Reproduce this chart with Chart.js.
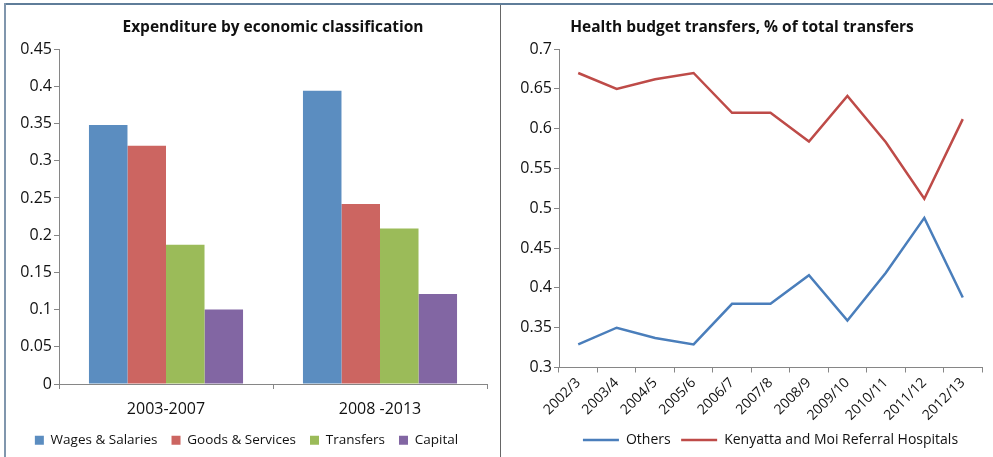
<!DOCTYPE html>
<html lang="en">
<head>
    <meta charset="UTF-8">
    <title>Health expenditure charts</title>
    <script src="https://cdn.jsdelivr.net/npm/chart.js"></script>
    <style>
        body {
            margin: 0;
            width: 993px;
            height: 457px;
            background: #fff;
            position: relative;
            overflow: hidden;
        }
        .frame-top {
            position: absolute;
            left: 4px; top: 3px;
            width: 989px; height: 2px;
            background: #5f7d99;
        }
        .frame-left {
            position: absolute;
            left: 4px; top: 3px;
            width: 2px; height: 454px;
            background: #8096ad;
        }
        .divider {
            position: absolute;
            left: 500px; top: 5px;
            width: 1px; height: 452px;
            background: #666;
        }
        .panel {
            position: absolute;
            top: 0;
            height: 457px;
        }
        #left { left: 6px; width: 492px; }
        #right { left: 502px; width: 491px; }
    </style>
</head>
<body>
<div class="frame-top"></div>
<div class="frame-left"></div>
<div class="divider"></div>
<div class="panel" id="left"><canvas id="spendChart"></canvas></div>
<div class="panel" id="right"><canvas id="transferChart"></canvas></div>
<script>
  // expenditure shares by period
  const periods = ['2003-2007', '2008 -2013'];
  const wages = [0.348, 0.394];
  const goods = [0.320, 0.242];
  const transfers = [0.187, 0.209];
  const capital = [0.100, 0.121];

  // share of health budget transfers by fiscal year
  const years = ['2002/3', '2003/4', '2004/5', '2005/6', '2006/7', '2007/8',
                 '2008/9', '2009/10', '2010/11', '2011/12', '2012/13'];
  const others = [0.329, 0.350, 0.337, 0.329, 0.380, 0.380, 0.416, 0.359, 0.419, 0.488, 0.388];
  const referral = [0.670, 0.650, 0.662, 0.670, 0.620, 0.620, 0.584, 0.641, 0.583, 0.512, 0.612];

  const FONT = "'Open Sans', 'DejaVu Sans', sans-serif";
  Chart.defaults.font.family = FONT;
  Chart.defaults.color = '#111';
  Chart.defaults.animation = false;
  Chart.defaults.maintainAspectRatio = false;

  const axisLine = { display: true, color: '#868686', width: 1 };
  const tickGrid = { drawOnChartArea: false, drawTicks: true, tickLength: 5, color: '#868686' };
  // excel-style "general" number format: 0.40 -> 0.4, 0.00 -> 0
  const general = v => String(parseFloat(Number(v).toFixed(2)));

  new Chart(document.getElementById('spendChart'), {
    type: 'bar',
    data: {
      labels: periods,
      datasets: [
        { label: 'Wages & Salaries', data: wages, backgroundColor: '#5b8dc0' },
        { label: 'Goods & Services', data: goods, backgroundColor: '#cc6561' },
        { label: 'Transfers', data: transfers, backgroundColor: '#9bbb59' },
        { label: 'Capital', data: capital, backgroundColor: '#8266a3' }
      ]
    },
    options: {
      responsive: true,
      layout: { padding: { left: 0, right: 11, top: 0, bottom: 0 } },
      datasets: { bar: { barPercentage: 1.0, categoryPercentage: 0.72 } },
      plugins: {
        title: {
          display: true,
          fullSize: false,
          text: 'Expenditure by economic classification',
          font: { size: 15.5, weight: 'bold' },
          padding: { top: 18, bottom: 12.5 }
        },
        legend: {
          position: 'bottom',
          labels: { boxWidth: 9, boxHeight: 9, font: { size: 13.5 }, padding: 14 }
        },
        tooltip: { enabled: false }
      },
      scales: {
        x: {
          grid: Object.assign({ offset: true }, tickGrid),
          border: axisLine,
          ticks: { font: { size: 16 }, padding: 11 },
          // tick mark + gap + one line of text
          afterFit: function(scale) { scale.height = 35.5; }
        },
        y: {
          min: 0, max: 0.45,
          grid: tickGrid,
          border: axisLine,
          ticks: { stepSize: 0.05, font: { size: 16 }, padding: 2, callback: general },
          afterFit: function(scale) { scale.width = 53; }
        }
      }
    }
  });

  new Chart(document.getElementById('transferChart'), {
    type: 'line',
    data: {
      labels: years,
      datasets: [
        { label: 'Others', data: others, borderColor: '#4a7ebb', backgroundColor: '#4a7ebb',
          borderWidth: 2.5, pointRadius: 0, tension: 0 },
        { label: 'Kenyatta and Moi Referral Hospitals', data: referral, borderColor: '#be4b48',
          backgroundColor: '#be4b48', borderWidth: 2.5, pointRadius: 0, tension: 0 }
      ]
    },
    options: {
      responsive: true,
      layout: { padding: { left: 0, right: 11, top: 0, bottom: 0 } },
      plugins: {
        title: {
          display: true,
          text: 'Health budget transfers, % of total transfers',
          font: { size: 15.5, weight: 'bold' },
          padding: { top: 18, bottom: 12.5 }
        },
        legend: {
          position: 'bottom',
          fullSize: false,
          labels: { boxWidth: 36, boxHeight: 0, font: { size: 14 }, padding: 10.5 }
        },
        tooltip: { enabled: false }
      },
      scales: {
        x: {
          offset: true,
          grid: Object.assign({ offset: true }, tickGrid),
          border: axisLine,
          ticks: { font: { size: 14 }, minRotation: 45, maxRotation: 45, padding: 2 },
          afterFit: function(scale) { scale.height = 55; }
        },
        y: {
          min: 0.3, max: 0.7,
          grid: tickGrid,
          border: axisLine,
          ticks: { stepSize: 0.05, font: { size: 16 }, padding: 2, callback: general },
          afterFit: function(scale) { scale.width = 57; }
        }
      }
    }
  });
</script>
</body>
</html>
